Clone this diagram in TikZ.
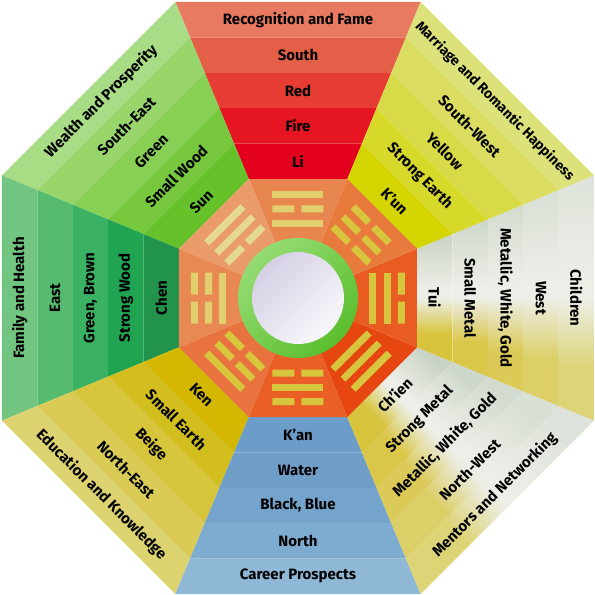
\documentclass[tikz,border=0pt]{standalone}
\usepackage{fontspec}
\setmainfont{Fira Sans}

% south (fire)
\definecolor{sLi}{HTML}{E3001F}
\definecolor{sFire}{HTML}{E51521}
\definecolor{sRed}{HTML}{E63C34}
\definecolor{sSouth}{HTML}{E45F48}
\definecolor{sFame}{HTML}{E87A62}
% south-east (small wood)
\definecolor{seSun}{HTML}{65C22A}
\definecolor{seWood}{HTML}{77C83F}
\definecolor{seGreen}{HTML}{88CF55}
\definecolor{seDir}{HTML}{98D66C}
\definecolor{seWealth}{HTML}{A8DD85}
% east (strong wood)
\definecolor{eChen}{HTML}{21934C}
\definecolor{eWood}{HTML}{20A452}
\definecolor{eGreen}{HTML}{3AB163}
\definecolor{eDir}{HTML}{56BA6F}
\definecolor{eFamily}{HTML}{72C580}
% north-east (small earth)
\definecolor{neKen}{HTML}{D4B700}
\definecolor{neEarth}{HTML}{D3BE20}
\definecolor{neBeige}{HTML}{D6C43A}
\definecolor{neDir}{HTML}{D9CB55}
\definecolor{neEdu}{HTML}{DCD270}
% north (water)
\definecolor{nKan}{HTML}{6C9DC8}
\definecolor{nWater}{HTML}{6F9FC9}
\definecolor{nBlack}{HTML}{74A4CC}
\definecolor{nDir}{HTML}{7EABD0}
\definecolor{nCareer}{HTML}{8FB8D7}
% south-west (strong earth)
\definecolor{swKun}{HTML}{D3D400}
\definecolor{swEarth}{HTML}{D6D82A}
\definecolor{swYellow}{HTML}{D8DB48}
\definecolor{swDir}{HTML}{DADD60}
\definecolor{swMarriage}{HTML}{DCE17A}
% west / north-west (metal)
\definecolor{mmid}{HTML}{ECEEE7}
\definecolor{mtopA}{HTML}{C9D3C5}
\definecolor{mtopB}{HTML}{CED7CB}
\definecolor{mtopC}{HTML}{D3DBD0}
\definecolor{mtopD}{HTML}{D8DFD5}
\definecolor{mtopE}{HTML}{DDE3DA}
\definecolor{mbotA}{HTML}{D8C43C}
\definecolor{mbotB}{HTML}{DAC74A}
\definecolor{mbotC}{HTML}{DBCA58}
\definecolor{mbotD}{HTML}{DCCF68}
\definecolor{mbotE}{HTML}{DDD478}
% trigram wedges
\definecolor{tS}{HTML}{E8864F}
\definecolor{tSE}{HTML}{E99C6A}
\definecolor{tE}{HTML}{E88953}
\definecolor{tNE}{HTML}{E8733E}
\definecolor{tN}{HTML}{EA5F26}
\definecolor{tNW}{HTML}{E6460F}
\definecolor{tW}{HTML}{E85C22}
\definecolor{tSW}{HTML}{E97A3E}
\definecolor{barA}{HTML}{D8C53E}
\definecolor{barB}{HTML}{E4D98E}
\definecolor{barC}{HTML}{E0CF6C}
% centre
\definecolor{ringA}{HTML}{95DC73}
\definecolor{ringB}{HTML}{5BBE2D}
\definecolor{discA}{HTML}{D5CFE5}
\definecolor{discB}{HTML}{F8F8FA}

\pgfdeclareverticalshading{metalA}{100bp}{color(0bp)=(mbotA); color(25bp)=(mbotA); color(36bp)=(mbotA); color(50bp)=(mmid); color(54bp)=(mmid); color(75bp)=(mtopA); color(100bp)=(mtopA)}
\pgfdeclareverticalshading{metalB}{100bp}{color(0bp)=(mbotB); color(25bp)=(mbotB); color(36bp)=(mbotB); color(50bp)=(mmid); color(54bp)=(mmid); color(75bp)=(mtopB); color(100bp)=(mtopB)}
\pgfdeclareverticalshading{metalC}{100bp}{color(0bp)=(mbotC); color(25bp)=(mbotC); color(36bp)=(mbotC); color(50bp)=(mmid); color(54bp)=(mmid); color(75bp)=(mtopC); color(100bp)=(mtopC)}
\pgfdeclareverticalshading{metalD}{100bp}{color(0bp)=(mbotD); color(25bp)=(mbotD); color(36bp)=(mbotD); color(50bp)=(mmid); color(54bp)=(mmid); color(75bp)=(mtopD); color(100bp)=(mtopD)}
\pgfdeclareverticalshading{metalE}{100bp}{color(0bp)=(mbotE); color(25bp)=(mbotE); color(36bp)=(mbotE); color(50bp)=(mmid); color(54bp)=(mmid); color(75bp)=(mtopE); color(100bp)=(mtopE)}

% one sector: name, scope options, text angle, bands (index/fill/text)
\newcommand{\sector}[4]{%
  \begin{scope}[#2]
    \foreach \k/\f/\t in {#4} {
      \pgfmathsetmacro\ra{119+35.4*\k}
      \pgfmathsetmacro\rb{\ra+35.4}
      \path[band] ({-\ra*0.41421},\ra) -- ({\ra*0.41421},\ra) -- ({\rb*0.41421},\rb) -- ({-\rb*0.41421},\rb) -- cycle;
      \node[lbl,rotate=#3] (#1\k) at (0,\ra+17.7) {\t};
    }
  \end{scope}}
% trigram lines
\newcommand{\yang}[1]{\fill[bar] (-25.5,#1-3.5) rectangle (25.5,#1+3.5);}
\newcommand{\yin}[1]{\fill[bar] (-25.5,#1-3.5) rectangle (-3.5,#1+3.5) (3.5,#1-3.5) rectangle (25.5,#1+3.5);}

\begin{document}
\begin{tikzpicture}[x=1pt,y=1pt,
    lbl/.style={font=\bfseries\fontsize{15}{17}\selectfont,text=black,inner sep=0pt},
    band/.style={fill=\f},
    metalW/.style={band/.style={shade,shading=\f}},
    metalNW/.style={band/.style={shade,shading=\f,shading angle=-45}},
    bar/.style={fill=barA}
  ]
  \useasboundingbox (-298,-297) rectangle (297,298);

  \sector{south}{rotate=0}{0}{0/sLi/Li, 1/sFire/Fire, 2/sRed/Red, 3/sSouth/South, 4/sFame/Recognition and Fame}
  \sector{southeast}{rotate=45}{45}{0/seSun/Sun, 1/seWood/Small Wood, 2/seGreen/Green, 3/seDir/South-East, 4/seWealth/Wealth and Prosperity}
  \sector{east}{rotate=90}{90}{0/eChen/Chen, 1/eWood/Strong Wood, 2/eGreen/{Green, Brown}, 3/eDir/East, 4/eFamily/Family and Health}
  \sector{northeast}{rotate=135}{-45}{0/neKen/Ken, 1/neEarth/Small Earth, 2/neBeige/Beige, 3/neDir/North-East, 4/neEdu/Education and Knowledge}
  \sector{north}{rotate=180}{0}{0/nKan/K'an, 1/nWater/Water, 2/nBlack/{Black, Blue}, 3/nDir/North, 4/nCareer/Career Prospects}
  \sector{northwest}{rotate=225,metalNW}{45}{0/metalA/Ch'ien, 1/metalB/Strong Metal, 2/metalC/{Metallic, White, Gold}, 3/metalD/North-West, 4/metalE/Mentors and Networking}
  \sector{west}{rotate=270,metalW}{-90}{0/metalA/Tui, 1/metalB/Small Metal, 2/metalC/{Metallic, White, Gold}, 3/metalD/West, 4/metalE/Children}
  \sector{southwest}{rotate=315}{-45}{0/swKun/K'un, 1/swEarth/Strong Earth, 2/swYellow/Yellow, 3/swDir/South-West, 4/swMarriage/{\fontsize{14}{16}\selectfont Marriage and Romantic Happiness}}

  % trigrams
  \begin{scope}[rotate=0,bar/.style={fill=barC}]
    \fill[tS] (0,0) -- (-49.29,119) -- (49.29,119) -- cycle;
    \yang{75} \yin{89.25} \yang{103.5}
  \end{scope}
  \begin{scope}[rotate=45,bar/.style={fill=barB}]
    \fill[tSE] (0,0) -- (-49.29,119) -- (49.29,119) -- cycle;
    \yin{75} \yang{89.25} \yang{103.5}
  \end{scope}
  \begin{scope}[rotate=90,bar/.style={fill=barC}]
    \fill[tE] (0,0) -- (-49.29,119) -- (49.29,119) -- cycle;
    \yang{75} \yin{89.25} \yin{103.5}
  \end{scope}
  \begin{scope}[rotate=135]
    \fill[tNE] (0,0) -- (-49.29,119) -- (49.29,119) -- cycle;
    \yin{75} \yin{89.25} \yang{103.5}
  \end{scope}
  \begin{scope}[rotate=180]
    \fill[tN] (0,0) -- (-49.29,119) -- (49.29,119) -- cycle;
    \yin{75} \yang{89.25} \yin{103.5}
  \end{scope}
  \begin{scope}[rotate=225]
    \fill[tNW] (0,0) -- (-49.29,119) -- (49.29,119) -- cycle;
    \yang{75} \yang{89.25} \yang{103.5}
  \end{scope}
  \begin{scope}[rotate=270]
    \fill[tW] (0,0) -- (-49.29,119) -- (49.29,119) -- cycle;
    \yang{75} \yang{89.25} \yin{103.5}
  \end{scope}
  \begin{scope}[rotate=315]
    \fill[tSW] (0,0) -- (-49.29,119) -- (49.29,119) -- cycle;
    \yin{75} \yin{89.25} \yin{103.5}
  \end{scope}

  % centre
  \shade[top color=ringA,bottom color=ringB,shading angle=45] (0,0) circle (60);
  \shade[top color=discA,bottom color=discB,shading angle=45] (0,0) circle (46);
\end{tikzpicture}
\end{document}
